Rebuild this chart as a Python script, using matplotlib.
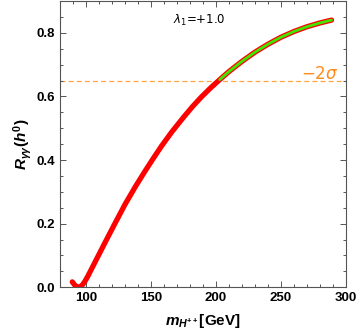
import matplotlib
matplotlib.use("Agg")
import matplotlib.pyplot as plt
import numpy as np
from matplotlib.ticker import MultipleLocator

plt.rcParams['font.family'] = ['Liberation Sans', 'DejaVu Sans']
plt.rcParams['mathtext.fontset'] = 'custom'
plt.rcParams['mathtext.it'] = 'Liberation Sans:italic:bold'
plt.rcParams['mathtext.rm'] = 'Liberation Sans:bold'
plt.rcParams['mathtext.bf'] = 'Liberation Sans:bold'

# charged Higgs mass (GeV) and diphoton ratio
m_hpp = [89.5, 91, 92.5, 94, 95.5, 97, 99, 101.5, 104, 108, 115, 122, 130,
         138, 145, 151, 158, 166, 175, 182, 189, 196, 203, 210, 220, 230,
         240, 250, 260, 270, 280, 289]
r_gg = [0.017, 0.009, 0.003, 0.0, 0.001, 0.006, 0.017, 0.035, 0.055, 0.087,
        0.143, 0.198, 0.260, 0.316, 0.362, 0.400, 0.443, 0.488, 0.534, 0.568,
        0.599, 0.627, 0.653, 0.678, 0.710, 0.739, 0.764, 0.786, 0.804, 0.819,
        0.831, 0.840]
bound_2sigma = 0.65
lambda1 = "+1.0"

m = np.array(m_hpp)
r = np.array(r_gg)
ok = r >= bound_2sigma

fig = plt.figure(figsize=(3.61, 3.36), dpi=100)
ax = fig.add_axes([0.166, 0.145, 0.792, 0.852])

ax.axhline(bound_2sigma, color='#ffa640', linestyle=(0, (4, 2.5)), lw=0.9, zorder=1)
ax.plot(m, r, color='red', lw=3.8, solid_capstyle='round', solid_joinstyle='round', zorder=3)
ax.plot(m[ok], r[ok], color='#3ee600', lw=2.0, solid_capstyle='round', zorder=4)

ax.text(187.5, 0.84, r"$\lambda_1$=" + lambda1, fontsize=8.5, ha='center', va='center',
        family=['DejaVu Sans'], math_fontfamily='dejavusans')
ax.text(280, 0.673, r"$-2\sigma$", color='#ff8c1a', fontsize=12, ha='center', va='center',
        math_fontfamily='dejavusans')

ax.set_xlim(80, 300)
ax.set_ylim(0, 0.9)
ax.xaxis.set_major_locator(MultipleLocator(50))
ax.xaxis.set_minor_locator(MultipleLocator(10))
ax.yaxis.set_major_locator(MultipleLocator(0.2))
ax.yaxis.set_minor_locator(MultipleLocator(0.05))
ax.yaxis.set_major_formatter(plt.FuncFormatter(lambda v, p: f"{v:.1f}"))

for s in ax.spines.values():
    s.set_color('#555555')
    s.set_linewidth(0.8)
ax.tick_params(which='both', direction='in', top=True, right=True, colors='#555555',
               labelcolor='black', labelsize=9.5, width=0.7)
ax.tick_params(which='major', length=4)
ax.tick_params(which='minor', length=2.3)
for lab in ax.get_xticklabels() + ax.get_yticklabels():
    lab.set_fontweight('bold')

ax.set_xlabel(r"$m_{H^{++}}$[GeV]", fontsize=11, fontweight='bold', labelpad=6)
ax.set_ylabel(r"$R_{\gamma\gamma}(h^0)$", fontsize=11, fontweight='bold', labelpad=2)

fig.savefig("out.png", dpi=100)
